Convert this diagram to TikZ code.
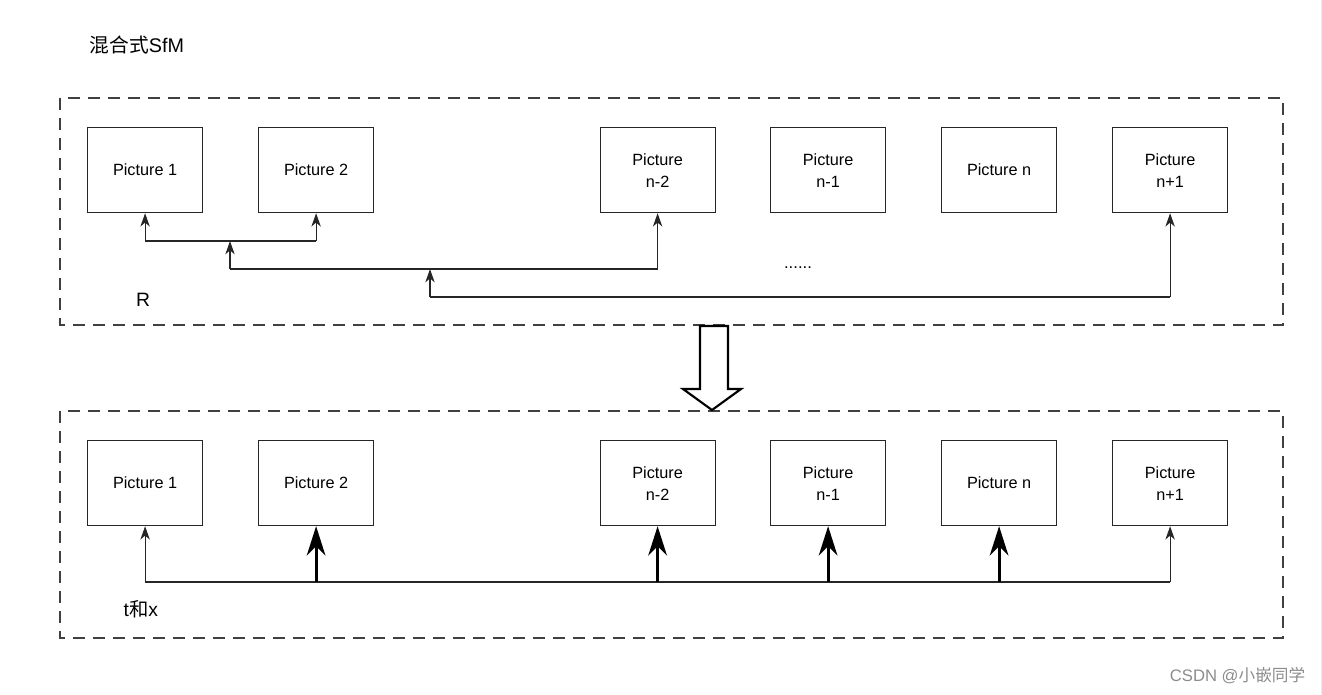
\documentclass[tikz,border=0pt]{standalone}
\usepackage{fontspec}
\setmainfont{Liberation Sans}
\newfontfamily\cjk{Noto Sans CJK SC}
\usetikzlibrary{arrows.meta}
\begin{document}
\begin{tikzpicture}[x=0.75pt,y=-0.75pt,
  picbox/.style={draw=black!85,line width=0.9pt,minimum width=86.25pt,minimum height=63.75pt,inner sep=0pt,font=\fontsize{12.2}{16.5}\selectfont,align=center,anchor=north west},
  group/.style={draw=black!75,line width=0.9pt,dash pattern=on 9pt off 6pt},
  thin/.style={draw=black!85,line width=0.9pt,-{Stealth[length=10pt,width=7pt,inset=3pt]}},
  thick/.style={draw=black,line width=2.1pt,-{Stealth[length=22pt,width=14pt,inset=7pt]}},
  plain/.style={draw=black!85,line width=0.9pt}]
\useasboundingbox (0,0) rectangle (1322,694);
% faint right edge line
\draw[draw=black!8,line width=0.75pt] (1321,0) -- (1321,694);
% title
\node[anchor=west,font=\fontsize{14.8}{17}\selectfont] (title) at (85,45) {{\cjk 混合式}SfM};
% group boxes
\draw[group] (60,98) rectangle (1283,325);
\draw[group] (60,411) rectangle (1283,638);
% top pictures
\node[picbox] (a1) at (87,127) {Picture 1};
\node[picbox] (a2) at (258,127) {Picture 2};
\node[picbox] (a3) at (599.5,127) {Picture\\n-2};
\node[picbox] (a4) at (770,127) {Picture\\n-1};
\node[picbox] (a5) at (941,127) {Picture n};
\node[picbox] (a6) at (1112,127) {Picture\\n+1};
% bottom pictures
\node[picbox] (b1) at (87,440) {Picture 1};
\node[picbox] (b2) at (258,440) {Picture 2};
\node[picbox] (b3) at (599.5,440) {Picture\\n-2};
\node[picbox] (b4) at (770,440) {Picture\\n-1};
\node[picbox] (b5) at (941,440) {Picture n};
\node[picbox] (b6) at (1112,440) {Picture\\n+1};
% top connectors
\coordinate (j1) at (230,241);
\coordinate (j2) at (430,269);
\draw[plain] (a1.south |- j1) -- (a2.south |- j1);
\draw[thin] (a1.south |- j1) -- (a1.south);
\draw[thin] (a2.south |- j1) -- (a2.south);
\draw[plain] (j1 |- 0,269) -- (a3.south |- 0,269);
\draw[thin] (j1 |- 0,269) -- (j1);
\draw[thin] (a3.south |- 0,269) -- (a3.south);
\draw[plain] (j2 |- 0,297) -- (a6.south |- 0,297);
\draw[thin] (j2 |- 0,297) -- (j2);
\draw[thin] (a6.south |- 0,297) -- (a6.south);
\node[font=\fontsize{12.5}{14}\selectfont] (dots) at (798,268) {......};
\node[font=\fontsize{14.5}{16}\selectfont] (R) at (143,300) {R};
% hollow arrow
\draw[draw=black,line width=1.6pt,line join=miter,fill=white] (700,326) -- (728,326) -- (728,389) -- (741,389) -- (712,410) -- (683,389) -- (700,389) -- cycle;
% bottom connectors
\coordinate (bl) at (0,582);
\draw[plain] (b1.south |- bl) -- (b6.south |- bl);
\draw[thin] (b1.south |- bl) -- (b1.south);
\draw[thin] (b6.south |- bl) -- (b6.south);
\draw[thick] (b2.south |- bl) -- (b2.south);
\draw[thick] (b3.south |- bl) -- (b3.south);
\draw[thick] (b4.south |- bl) -- (b4.south);
\draw[thick] (b5.south |- bl) -- (b5.south);
\node[anchor=west,font=\fontsize{14.5}{16}\selectfont] (tx) at (119,609) {t{\cjk 和}x};
% watermark
\node[anchor=east,text=black!45,font=\fontsize{12.5}{14}\selectfont] (wm) at (1310,676) {CSDN @{\cjk 小嵌同学}};
\end{tikzpicture}
\end{document}
